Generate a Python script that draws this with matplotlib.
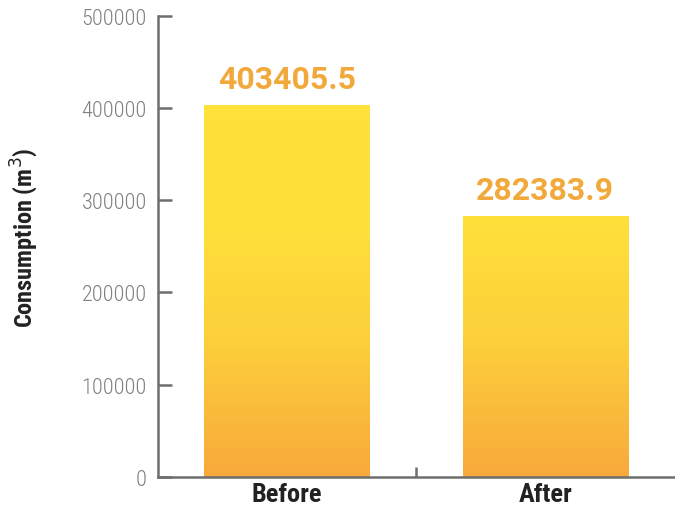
import numpy as np
import matplotlib
matplotlib.use("Agg")
import matplotlib.pyplot as plt
from matplotlib.colors import LinearSegmentedColormap

# data
categories = ["Before", "After"]
values = [403405.5, 282383.9]
value_labels = ["403405.5", "282383.9"]
y_ticks = [0, 100000, 200000, 300000, 400000, 500000]

narrow = ["Roboto Condensed", "DejaVu Sans"]
axis_grey = "#6e6e6e"
label_orange = "#f2a93c"

fig = plt.figure(figsize=(6.75, 5.1), dpi=100)
ax = fig.add_axes([0.234, 0.063, 0.765, 0.904])

x = np.arange(len(categories))
bars = ax.bar(x, values, width=0.64, color="none", edgecolor="none", zorder=2)

# yellow -> orange gradient, fixed to the data scale and clipped by each bar
cmap = LinearSegmentedColormap.from_list(
    "yo", [(0.0, "#f8a93b"), (0.3, "#fcd03a"), (0.55, "#ffe03a"), (1.0, "#ffe23a")])
grad = np.linspace(0, 1, 256).reshape(-1, 1)
for b in bars:
    im = ax.imshow(grad, cmap=cmap, aspect="auto", origin="lower",
                   extent=[-0.5, 1.5, 0, 500000], zorder=2)
    im.set_clip_path(b)

for xi, v, lab in zip(x, values, value_labels):
    ax.text(xi, v + 12000, lab, ha="center", va="bottom", fontsize=23,
            fontweight="bold", color=label_orange, family=["Roboto", "DejaVu Sans"])

ax.set_xlim(-0.5, 1.5)
ax.set_ylim(0, 500000)
ax.set_yticks(y_ticks)
ax.set_yticklabels([str(t) for t in y_ticks], family=narrow, fontsize=16,
                   fontweight="light", color="#808080")

ax.set_xticks(x)
ax.set_xticklabels(categories, family=narrow, fontsize=19, fontweight="bold", color="#222222")
ax.set_xticks([0.5], minor=True)
ax.tick_params(axis="x", which="major", length=0, pad=4)
ax.tick_params(axis="x", which="minor", direction="in", length=7, width=1.8, color=axis_grey)
ax.tick_params(axis="y", direction="in", length=10, width=1.8, color=axis_grey, pad=8)

for s in ["top", "right"]:
    ax.spines[s].set_visible(False)
for s in ["left", "bottom"]:
    ax.spines[s].set_color(axis_grey)
    ax.spines[s].set_linewidth(1.8)

ax.set_ylabel("Consumption (m$^3$)", family=narrow, fontsize=17.5, fontweight="bold",
              color="#222222")
ax.yaxis.set_label_coords(-0.228, 0.52)

fig.savefig("out.png", dpi=100)
